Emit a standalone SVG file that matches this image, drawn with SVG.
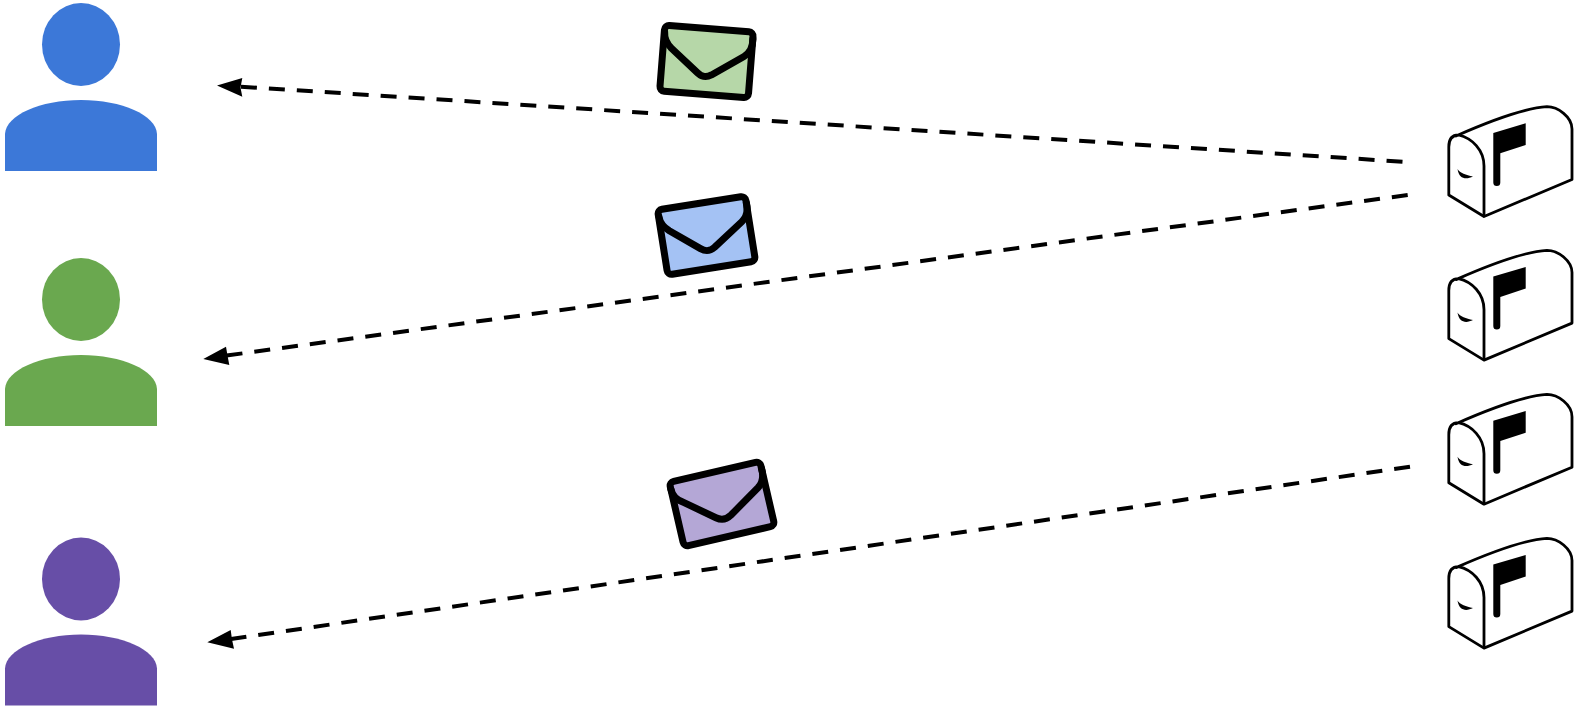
<svg xmlns="http://www.w3.org/2000/svg" width="1575" height="707" viewBox="0 0 1575 707">
<style>
.line{fill:none;stroke:#000;stroke-width:4;stroke-dasharray:16 12}
.env{stroke:#000;stroke-width:7;stroke-linejoin:round;stroke-linecap:round}
.flap{fill:none;stroke:#000;stroke-width:7;stroke-linecap:round;stroke-linejoin:round}
.box{stroke:#000;stroke-width:2.8;stroke-linejoin:round}
</style>
<defs>
<g id="person">
<ellipse cx="81" cy="44.500" rx="39" ry="41.500"/>
<path d="M5 171V134C6 115 40 100 81 100S156 115 157 134V171Z"/>
</g>
<g id="mailbox">
<path class="box" fill="#fff" d="M1456 136C1490 121 1526 108 1547 106.700C1558 106.700 1572 117 1572 129V179.500L1484 216.500L1448.800 195V147C1448.800 139 1452.500 135 1458.500 135Z"/>
<path class="box" fill="none" d="M1458.500 135C1472 138 1484 150 1484 166V216.500"/>
<path d="M1493.300 133L1525.700 123.300V145L1500.300 153.300V182.500A3.500 3.500 0 0 1 1493.300 182.500Z"/>
<path d="M1457.500 169C1460 173 1466 175 1473 176.500C1466 180 1459 179 1457.500 169Z"/>
</g>
<g id="envelope">
<rect class="env" x="-44.400" y="-32.900" width="88.800" height="65.800" rx="4.500"/>
<path class="flap" d="M-44 -26C-44 -18 -40 -14 -36 -10.500L-8 12C-3 16 1 16 6 13L37 -8C42 -11.500 45 -18 44.500 -26"/>
</g>
</defs>
<g id="connectors">
<line class="line" x1="1402.500" y1="161.700" x2="240" y2="86.600"/>
<line class="line" x1="1407.700" y1="195" x2="226" y2="355.600"/>
<line class="line" x1="1410" y1="466.700" x2="231" y2="639"/>
<path d="M217 85.400L242.300 78L240.500 87.400L242.300 96.700Z"/>
<path d="M203.300 359L226 346.700L227.500 355.500L229.300 365Z"/>
<path d="M207.300 642.300L230.700 630L232 639.500L234 648.700Z"/>
</g>
<g id="person-blue" fill="#3c78d8"><use href="#person"/></g>
<g id="person-green" fill="#6aa84f"><use href="#person" y="255"/></g>
<g id="person-purple" fill="#674ea7"><use href="#person" y="534.500"/></g>
<g id="mailbox-1"><use href="#mailbox"/></g>
<g id="mailbox-2"><use href="#mailbox" y="143.600"/></g>
<g id="mailbox-3"><use href="#mailbox" y="287.700"/></g>
<g id="mailbox-4"><use href="#mailbox" y="431.600"/></g>
<g id="envelope-green" fill="#b6d7a8" transform="translate(706.500 61.500) rotate(4.500)"><use href="#envelope"/></g>
<g id="envelope-blue" fill="#a4c2f4" transform="translate(706.500 235.500) rotate(-9)"><use href="#envelope"/></g>
<g id="envelope-purple" fill="#b4a7d6" transform="translate(722 504) rotate(-13)">
<rect class="env" x="-46.500" y="-33" width="93" height="66" rx="4.500"/>
<path class="flap" d="M-46.500 -26C-46.500 -18 -43 -14 -38 -11L-9 12C-4 16 1 16 6 13L39 -8C44 -11.500 47 -18 46.500 -26"/>
</g>
</svg>
